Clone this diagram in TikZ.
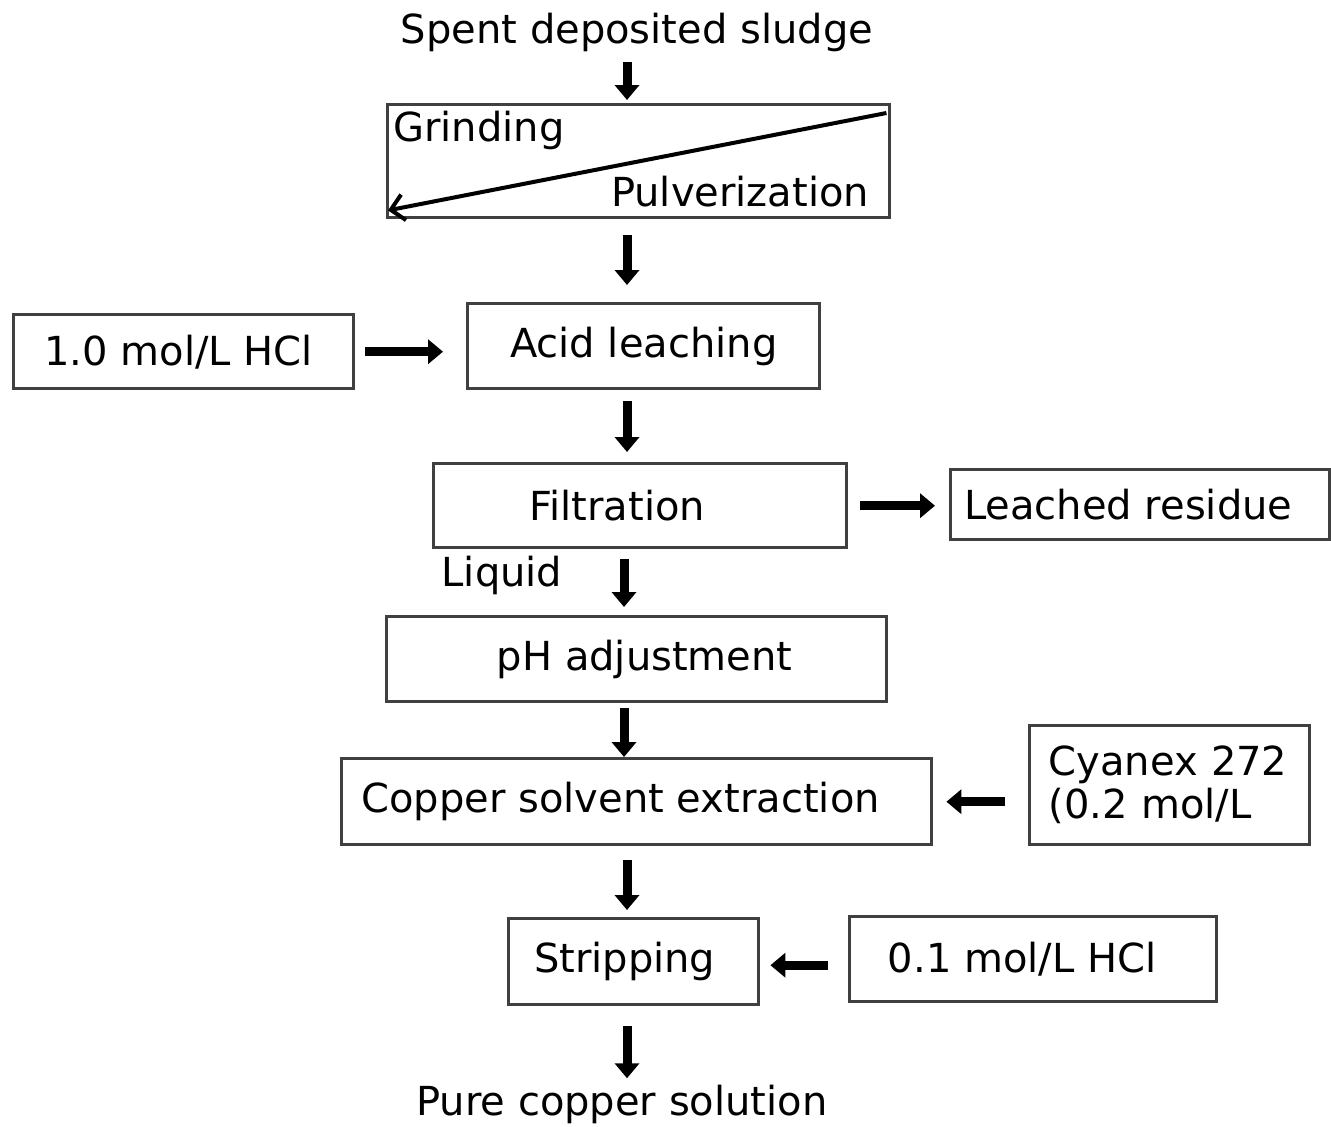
\documentclass[tikz,border=0pt]{standalone}
\usepackage{fontspec}
\setmainfont{DejaVu Sans}
\usetikzlibrary{arrows.meta,positioning,calc}
\tikzstyle{stage}=[draw=black!75,line width=1.7pt,rectangle,inner sep=0pt,anchor=north west]
\tikzstyle{flow}=[line width=4.5pt,-{Triangle[length=7.5pt,width=12pt]}]
\tikzstyle{caption}=[inner sep=2pt]

\begin{document}
\begin{tikzpicture}[x=0.5pt,y=-0.5pt,font=\fontsize{20}{21.5}\selectfont]
\useasboundingbox (0,0) rectangle (1331,1126);
\coordinate (spine) at (627,0);
% main column
\node [caption] (spent) at (637,32) {Spent deposited sludge};
\node [stage,minimum width=251pt,minimum height=56.5pt] (grind) at (386,103) {};
\node [anchor=west,inner sep=0pt] (grindtxt) at ($(grind.north west)+(7,27)$) {Grinding};
\node [anchor=east,inner sep=0pt] (pulvtxt) at ($(grind.south east)+(-22,-28)$) {Pulverization};
\node [stage,minimum width=176pt,minimum height=42.5pt] (acid) at (466,302) {Acid leaching};
\node [stage,minimum width=206.5pt,minimum height=42pt] (filt) at (432,462) {\hspace{-23pt}Filtration};
\node [caption] (liquid) at (502,575) {Liquid};
\node [stage,minimum width=250pt,minimum height=42.5pt] (ph) at (385,615) {\hspace{8pt}pH adjustment};
\node [stage,minimum width=295pt,minimum height=43pt] (copper) at (340,757) {\hspace{-16pt}Copper solvent extraction};
\node [stage,minimum width=125pt,minimum height=43pt] (strip) at (507,917) {\hspace{-9pt}Stripping};
\node [caption] (pure) at (622,1104) {Pure copper solution};
% side boxes
\node [stage,minimum width=170pt,minimum height=37pt] (hclA) at (12,313) {\hspace{-5pt}1.0 mol/L HCl};
\node [stage,minimum width=189.5pt,minimum height=35pt] (resid) at (949,468) {\hspace{-12pt}Leached residue};
\node [stage,text width=121pt,inner xsep=9.5pt,minimum height=59.5pt,align=left] (cyanex) at (1028,724) {Cyanex 272\\(0.2 mol/L};
\node [stage,minimum width=183.5pt,minimum height=42.5pt] (hclB) at (848,915) {\hspace{-11pt}0.1 mol/L HCl};

\draw [line width=2pt,-{Straight Barb[length=6.5pt,width=13pt]}] ($(grind.north east)+(-5,10)$) -- ($(grind.south west)+(2,-9)$);

% vertical flow
\draw [flow,shorten <=3pt,shorten >=1.5pt] (spent.south -| spine) -- (grind.north -| spine);
\draw [flow,shorten <=8pt,shorten >=8.5pt] (grind.south -| spine) -- (acid.north -| spine);
\draw [flow,shorten <=5.5pt,shorten >=5pt] (acid.south -| spine) -- (filt.north -| spine);
\draw [flow,shorten <=5pt,shorten >=4pt] ([xshift=-1.5pt]filt.south -| spine) -- ([xshift=-1.5pt]ph.north -| spine);
\draw [flow,shorten <=2.5pt,shorten >=0pt] ([xshift=-1.5pt]ph.south -| spine) -- ([xshift=-1.5pt]copper.north -| spine);
\draw [flow,shorten <=7pt,shorten >=3.5pt] (copper.south -| spine) -- (strip.north -| spine);
\draw [flow,shorten <=10pt,shorten >=1pt] (strip.south -| spine) -- (pure.north -| spine);
% side flow
\draw [flow,shorten <=5pt,shorten >=11.5pt] (hclA.east) -- (hclA.east -| acid.west);
\draw [flow,shorten <=6pt,shorten >=7pt] (filt.east) -- (filt.east -| resid.west);
\draw [flow,shorten <=11.5pt,shorten >=6.5pt] (cyanex.west |- copper.east) -- (copper.east);
\draw [flow,shorten <=10pt,shorten >=5pt] ([yshift=-3pt]hclB.west) -- ([yshift=-3pt]hclB.west -| strip.east);
\end{tikzpicture}
\end{document}
